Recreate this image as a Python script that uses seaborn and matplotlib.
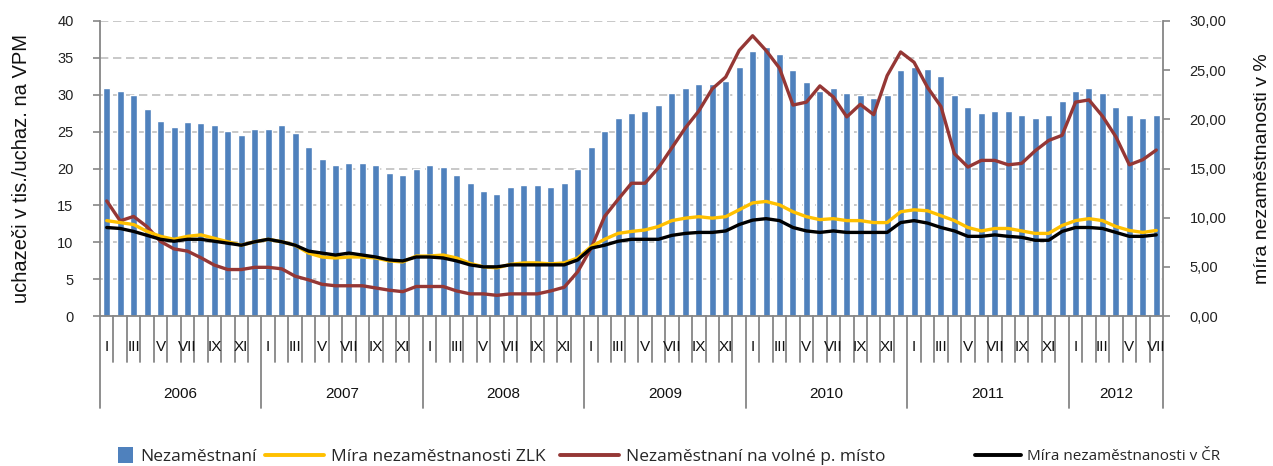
import numpy as np
import pandas as pd
import matplotlib
matplotlib.use('Agg')
import matplotlib.pyplot as plt
import matplotlib.transforms as mtrans
from matplotlib.lines import Line2D
from matplotlib.patches import Patch, Rectangle
from matplotlib.legend_handler import HandlerPatch
import seaborn as sns

# ---------------- data ----------------
years = ['2006', '2007', '2008', '2009', '2010', '2011', '2012']
month_labels = ['I', '', 'III', '', 'V', '', 'VII', '', 'IX', '', 'XI', '']

# Nezaměstnaní (thousands)
unemployed = [
    30.9, 30.5, 30.0, 28.1, 26.5, 25.6, 26.3, 26.2, 25.9, 25.1, 24.6, 25.4,
    25.4, 25.9, 24.8, 22.9, 21.3, 20.5, 20.7, 20.7, 20.5, 19.4, 19.1, 20.0,
    20.5, 20.2, 19.1, 18.0, 16.9, 16.6, 17.5, 17.8, 17.8, 17.5, 18.0, 20.0,
    22.9, 25.1, 26.8, 27.5, 27.8, 28.6, 30.3, 30.9, 31.4, 31.4, 31.9, 33.8,
    36.0, 36.5, 35.5, 33.3, 31.7, 30.5, 30.9, 30.3, 30.0, 29.5, 30.0, 33.3,
    33.8, 33.5, 32.5, 30.0, 28.3, 27.5, 27.8, 27.8, 27.3, 26.8, 27.3, 29.2,
    30.5, 30.9, 30.3, 28.3, 27.3, 26.8, 27.3,
]
# Nezaměstnaní na volné pracovní místo (left axis)
per_vacancy = [
    15.6, 12.9, 13.5, 12.1, 10.1, 9.1, 8.8, 7.9, 6.9, 6.3, 6.3, 6.6,
    6.6, 6.4, 5.4, 4.9, 4.3, 4.1, 4.1, 4.1, 3.8, 3.5, 3.3, 4.0,
    4.0, 4.0, 3.4, 3.0, 3.0, 2.8, 3.0, 3.0, 3.0, 3.4, 3.9, 6.0,
    9.2, 13.5, 15.8, 18.0, 18.0, 20.1, 22.8, 25.5, 27.8, 30.8, 32.4, 36.0,
    38.0, 36.0, 33.6, 28.6, 29.0, 31.2, 29.7, 27.0, 28.7, 27.3, 32.6, 35.8,
    34.4, 31.0, 28.4, 22.0, 20.2, 21.1, 21.1, 20.5, 20.7, 22.4, 23.8, 24.5,
    29.0, 29.3, 27.1, 24.3, 20.5, 21.2, 22.5,
]
# Míra nezaměstnanosti ZLK (%)
rate_zlk = [
    9.7, 9.5, 9.3, 8.6, 8.1, 7.8, 8.1, 8.25, 7.9, 7.55, 7.2, 7.55,
    7.8, 7.55, 7.2, 6.4, 6.0, 5.9, 6.0, 6.0, 5.9, 5.6, 5.5, 6.1,
    6.1, 6.2, 5.9, 5.35, 5.0, 4.9, 5.25, 5.4, 5.4, 5.3, 5.4, 5.9,
    7.05, 7.8, 8.4, 8.6, 8.75, 9.1, 9.7, 9.95, 10.1, 9.95, 10.1, 10.8,
    11.5, 11.65, 11.3, 10.6, 10.1, 9.8, 9.9, 9.7, 9.7, 9.5, 9.5, 10.6,
    10.8, 10.7, 10.2, 9.7, 9.0, 8.65, 8.9, 8.9, 8.65, 8.4, 8.4, 9.2,
    9.7, 9.9, 9.7, 9.1, 8.7, 8.5, 8.7,
]
# Míra nezaměstnanosti v ČR (%)
rate_cr = [
    9.0, 8.9, 8.6, 8.2, 7.8, 7.6, 7.8, 7.8, 7.6, 7.4, 7.2, 7.55,
    7.8, 7.55, 7.2, 6.6, 6.4, 6.2, 6.4, 6.2, 6.0, 5.7, 5.6, 6.0,
    6.0, 5.9, 5.6, 5.2, 5.0, 5.0, 5.2, 5.2, 5.2, 5.2, 5.2, 5.7,
    6.9, 7.2, 7.6, 7.8, 7.8, 7.8, 8.2, 8.4, 8.5, 8.5, 8.65, 9.3,
    9.75, 9.9, 9.7, 9.0, 8.65, 8.5, 8.65, 8.5, 8.5, 8.5, 8.5, 9.5,
    9.7, 9.45, 9.0, 8.65, 8.1, 8.1, 8.25, 8.1, 8.0, 7.7, 7.7, 8.6,
    9.0, 9.0, 8.9, 8.5, 8.1, 8.1, 8.25,
]

series_names = ['Nezaměstnaní', 'Míra nezaměstnanosti ZLK',
                'Nezaměstnaní na volné p. místo', 'Míra nezaměstnanosti v ČR']
left_label = 'uchazeči v tis./uchaz. na VPM'
right_label = 'míra nezaměstnanosti v %'

# ---------------- style ----------------
sns.set_theme(style='white')
plt.rcParams['font.family'] = ['Liberation Sans', 'DejaVu Sans']
NARROW = ['Liberation Sans Narrow', 'Liberation Sans', 'DejaVu Sans']

BLUE = '#4F81BD'
YELLOW = '#FFC000'
RED = '#953735'
GREY = '#868686'

n = len(unemployed)
df = pd.DataFrame({
    'idx': np.arange(n),
    'unemployed': unemployed,
    'per_vacancy': per_vacancy,
    'rate_zlk': rate_zlk,
    'rate_cr': rate_cr,
})

W, H = 1273, 466
fig = plt.figure(figsize=(W / 100, H / 100), dpi=100)
ax = fig.add_axes([100 / W, 1 - 316 / H, 1063 / W, 295 / H])

sns.barplot(data=df, x='idx', y='unemployed', ax=ax, color=BLUE,
            saturation=1, width=0.52, zorder=2)
sns.lineplot(data=df, x='idx', y='per_vacancy', ax=ax, color=RED,
             linewidth=2.4, zorder=3)

ax2 = ax.twinx()
sns.lineplot(data=df, x='idx', y='rate_zlk', ax=ax2, color=YELLOW,
             linewidth=2.4)
sns.lineplot(data=df, x='idx', y='rate_cr', ax=ax2, color='black',
             linewidth=2.4)

# axes limits / ticks
ax.set_xlim(-0.5, n - 0.5)
ax2.set_xlim(-0.5, n - 0.5)
ax.set_ylim(0, 40)
ax.set_yticks(np.arange(0, 41, 5))
ax2.set_ylim(0, 30)
ax2.set_yticks(np.arange(0, 31, 5))
ax2.set_yticklabels([f'{v:.2f}'.replace('.', ',') for v in np.arange(0, 31, 5)])
ax.set_xticks([])
ax2.set_xticks([])
ax.set_xlabel('')
ax2.set_xlabel('')

ax.set_axisbelow(True)
ax.yaxis.grid(True, color='#BFBFBF', linewidth=1.2, linestyle=(0, (5, 2.8)))
ax.xaxis.grid(False)

for s in ['top', 'right']:
    ax.spines[s].set_visible(False)
for s in ['top', 'left', 'bottom']:
    ax2.spines[s].set_visible(False)
ax.spines['left'].set_color(GREY)
ax.spines['bottom'].set_color(GREY)
ax2.spines['right'].set_color(GREY)
for sp in [ax.spines['left'], ax.spines['bottom'], ax2.spines['right']]:
    sp.set_linewidth(1.3)

ax.tick_params(axis='y', left=True, length=5, width=1.2, color=GREY,
               pad=14, labelsize=10.5, labelcolor='#222222')
ax2.tick_params(axis='y', right=True, length=5, width=1.2, color=GREY,
                pad=14, labelsize=10.5, labelcolor='#222222')

ax.set_ylabel(left_label, fontsize=14.5, color='#111111')
ax.yaxis.set_label_coords(-0.065, 0.5)
ax2.set_ylabel(right_label, fontsize=14, color='#111111', rotation=90)
ax2.yaxis.set_label_coords(1.086, 0.5)

# multi-level category axis
trans = mtrans.blended_transform_factory(ax.transData, ax.transAxes)
ax_h = 295.0
month_sep = -46 / ax_h
year_sep = -92 / ax_h
for b in range(n + 1):
    yb = year_sep if (b % 12 == 0 or b == n) else month_sep
    ax.plot([b - 0.5, b - 0.5], [0, yb], transform=trans, color=GREY,
            linewidth=1.3, clip_on=False, zorder=1)
for i in range(n):
    lab = month_labels[i % 12]
    if lab:
        ax.text(i, -31 / ax_h, lab, transform=trans, ha='center', va='center',
                fontsize=11, family=NARROW, color='#111111')
for k, yr in enumerate(years):
    start = 12 * k
    end = min(start + 12, n)
    ax.text((start + end - 1) / 2, -78 / ax_h, yr, transform=trans,
            ha='center', va='center', fontsize=11, family=NARROW,
            color='#111111')


# legend (one entry per box, placed like the reference)
class SquareHandler(HandlerPatch):
    def create_artists(self, legend, orig_handle, xdescent, ydescent,
                       width, height, fontsize, trans):
        s = height * 1.3
        r = Rectangle((width - s - xdescent, -ydescent + (height - s) / 2), s, s,
                      facecolor=orig_handle.get_facecolor(), edgecolor='none',
                      transform=trans)
        return [r]


handles = [
    Patch(facecolor=BLUE),
    Line2D([], [], color=YELLOW, linewidth=2.8),
    Line2D([], [], color=RED, linewidth=2.8),
    Line2D([], [], color='black', linewidth=2.8),
]
starts_px = [83, 265, 560, 975]
hlen = [2.9, 3.4, 3.4, 3.0]
sizes = [12.5, 12.5, 12.5, 11.0]
for h, name, x0, hl, fs in zip(handles, series_names, starts_px, hlen, sizes):
    fig.legend([h], [name], loc='center left',
               bbox_to_anchor=(x0 / W, 1 - 457 / H),
               frameon=False, borderpad=0, borderaxespad=0,
               prop={'family': ['Open Sans', 'DejaVu Sans'], 'size': fs},
               handlelength=hl, handletextpad=0.4,
               handler_map={Patch: SquareHandler()})

fig.savefig('out.png', dpi=100)
